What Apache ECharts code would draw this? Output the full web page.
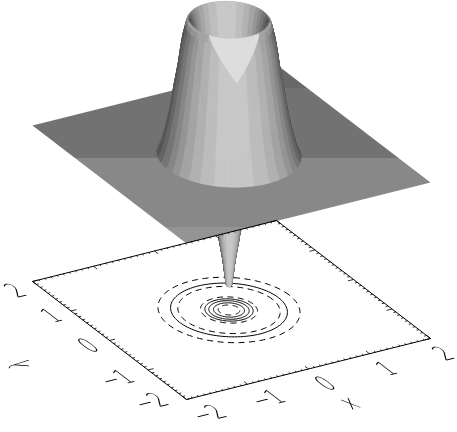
<!DOCTYPE html>
<html>
<head>
<meta charset="utf-8">
<style>html,body{margin:0;padding:0;background:#fff}#container{width:457px;height:432px}</style>
<script src="https://cdn.jsdelivr.net/npm/echarts@6/dist/echarts.min.js"></script>
</head>
<body>
<div id="container"></div>
<script>
// radial profile of the surface
var profileR = [0, .04, .085, .14, .2, .25, .3, .35, .4, .45, .5, .52, .54, .56, .58, .6, .62, .64, .66, .68, .7, .72, .74, .76, .78, .8, .83, .86, .89, .92, .95, .98, 1];
var profileZ = [-1, -.97, -.79, -.63, -.41, -.19, .04, .28, .54, .78, .93, .975, .995, 1, .99, .955, .91, .87, .81, .745, .67, .61, .555, .5, .435, .37, .29, .22, .155, .1, .05, .015, 0];

// contours on the floor (radius in x/y units)
var contourR = [.15, .215, .28, .335, .395, .71, .81, .985];
var contourDashed = [true, false, false, false, true, true, false, true];

var xTicks = [-2, -1, 0, 1, 2];
var yTicks = [-2, -1, 0, 1, 2];
var floorZ = -1.164;

// grey bands of the shaded surface: lower edge of each band, and its grey
var bandEdge = [.96, .88, .78, .66, .54, .42, .28, .1, 0];
var bandGrey = [200, 190, 178, 165, 150, 135, 118, 100, 85];

// the box axes are oblique, so x,y,z go through this to the hidden cartesian axes
function project(x, y, z) {
    return [231.5 + 61 * x - 38.5 * y, 154 - 15.25 * x - 29.5 * y - 134 * z];
}
function centre(x, y, z) {
    var p = project(x, y, z);
    return [p[0] - 2.5, p[1]];
}

var nPhi = 180;
var front = Math.atan2(-.888, -.459);

function facetColor(phi, zMid, outer) {
    var t = Math.abs(Math.cos(phi - front));
    // the outer shoulder faces upward, so it catches more light
    if (outer) {
        var w = Math.max(0, (zMid - .95) / .05);
        t = t * (1 - w) + w * .72;
    }
    var g = bandGrey[bandGrey.length - 1];
    for (var n = 0; n < bandEdge.length; n++) {
        if (t >= bandEdge[n]) { g = bandGrey[n]; break; }
    }
    return 'rgb(' + g + ',' + g + ',' + g + ')';
}

var below = [], above = [];
for (var i = 0; i < profileR.length - 1; i++) {
    for (var j = 0; j < nPhi; j++) {
        var p0 = j / nPhi * 2 * Math.PI, p1 = (j + 1) / nPhi * 2 * Math.PI, pm = (p0 + p1) / 2;
        var r0 = profileR[i], r1 = profileR[i + 1], z0 = profileZ[i], z1 = profileZ[i + 1];
        var rm = (r0 + r1) / 2, zm = (z0 + z1) / 2;
        var depth = 63.9 * (.459 * rm * Math.cos(pm) + .888 * rm * Math.sin(pm)) - 69.5 * zm;
        var f = {
            pts: [
                centre(r0 * Math.cos(p0), r0 * Math.sin(p0), z0),
                centre(r1 * Math.cos(p0), r1 * Math.sin(p0), z1),
                centre(r1 * Math.cos(p1), r1 * Math.sin(p1), z1),
                centre(r0 * Math.cos(p1), r0 * Math.sin(p1), z0)
            ],
            color: facetColor(pm, zm, z1 < z0),
            depth: depth
        };
        (zm < 0 ? below : above).push(f);
    }
}
below.sort(function (a, b) { return b.depth - a.depth; });
above.sort(function (a, b) { return b.depth - a.depth; });

// light wedge on the front of the tube, under the rim
function outerRadius(z) {
    for (var n = profileZ.length - 1; n > 0; n--) {
        if (profileZ[n - 1] >= z) {
            var u = (z - profileZ[n]) / (profileZ[n - 1] - profileZ[n]);
            return profileR[n] + u * (profileR[n - 1] - profileR[n]);
        }
    }
    return profileR[0];
}
var wedge = [];
for (var s = -20; s <= 20; s++) {
    var sn = s / 20;
    var ph = front + .07 + Math.asin(.62 * sn);
    var zw = .7 + .3 * Math.abs(sn);
    var rw = outerRadius(zw);
    wedge.push(centre(rw * Math.cos(ph), rw * Math.sin(ph), zw));
}
for (var s2 = 20; s2 >= -20; s2--) {
    var ph2 = front + .07 + Math.asin(.62 * s2 / 20);
    wedge.push(centre(.56 * Math.cos(ph2), .56 * Math.sin(ph2), 1));
}
above.push({ pts: wedge, color: 'rgb(221,221,221)', depth: -999 });

function facetSeries(list, z) {
    return {
        type: 'custom', coordinateSystem: 'cartesian2d', clip: false, silent: true, z: z,
        animation: false, progressive: 0,
        data: list.map(function (f, k) { return [k]; }),
        encode: { x: 0, y: 0 },
        renderItem: function (params, api) {
            var f = list[params.dataIndex];
            return {
                type: 'polygon',
                shape: { points: f.pts.map(function (p) { return api.coord(p); }) },
                style: { fill: f.color, stroke: f.color, lineWidth: .6 }
            };
        }
    };
}

// straight segments and contours on the floor
var lines = [];
function seg(a, b) { lines.push({ pts: [a, b], w: .8, dash: null }); }
var corners = [[-2, -2], [2, -2], [2, 2], [-2, 2]];
for (var c = 0; c < 4; c++) {
    lines.push({ pts: [project(corners[c][0], corners[c][1], floorZ), project(corners[(c + 1) % 4][0], corners[(c + 1) % 4][1], floorZ)], w: 1, dash: null });
}
for (var k = 0; k <= 40; k++) {
    var v = -2 + k * .1;
    var len = k % 10 === 0 ? .09 : .04;
    seg(project(v, -2, floorZ), project(v, -2 + len, floorZ));
    seg(project(v, 2, floorZ), project(v, 2 - len, floorZ));
    seg(project(-2, v, floorZ), project(-2 + len, v, floorZ));
    seg(project(2, v, floorZ), project(2 - len, v, floorZ));
}
var rings = contourR.map(function (r, n) {
    var pts = [];
    for (var a = 0; a <= 120; a++) {
        var t = a / 120 * 2 * Math.PI;
        pts.push(centre(r * Math.cos(t), r * Math.sin(t), floorZ));
    }
    return { pts: pts, w: 1, dash: contourDashed[n] ? [6, 4.5] : null };
});

function lineSeries(list, z) {
    return {
        type: 'custom', coordinateSystem: 'cartesian2d', clip: false, silent: true, z: z,
        animation: false, progressive: 0,
        data: list.map(function (f, k) { return [k]; }),
        encode: { x: 0, y: 0 },
        renderItem: function (params, api) {
            var l = list[params.dataIndex];
            return {
                type: 'polyline',
                shape: { points: l.pts.map(function (p) { return api.coord(p); }) },
                style: { fill: null, stroke: '#000', lineWidth: l.w, lineDash: l.dash }
            };
        }
    };
}

// text laid flat on the floor: rotate, stretch, rotate gives any affine map
var baseX = [1.26, -.315], downY = [1.59, 1.22];
var labels = [];
xTicks.forEach(function (v, n) {
    var at = [[210, 415], [269, 400], [327, 385], [388, 370], [445, 355]][n];
    labels.push({ text: String(v).replace('-', '\u2212'), at: at, base: baseX, down: downY });
});
yTicks.forEach(function (v, n) {
    var at = [[152, 403], [118, 380], [90, 347], [53, 317], [17, 292]][n];
    labels.push({ text: String(v).replace('-', '\u2212'), at: at, base: baseX, down: downY });
});
labels.push({ text: 'x', at: [351, 404], base: baseX, down: downY });
labels.push({ text: 'y', at: [21, 364], base: [0, -.95], down: [-1.94, .24] });

function labelItem(params, api) {
    var l = labels[params.dataIndex];
    var a = l.base[0], b = l.base[1], c = l.down[0], d = l.down[1];
    var E = (a + d) / 2, F = (a - d) / 2, G = (b + c) / 2, H = (b - c) / 2;
    var Q = Math.hypot(E, H), R = Math.hypot(F, G);
    var a1 = Math.atan2(G, F), a2 = Math.atan2(H, E);
    var xy = api.coord(l.at);
    return {
        type: 'group', x: xy[0], y: xy[1], rotation: -(a2 + a1) / 2, scaleX: Q + R, scaleY: Q - R,
        children: [{
            type: 'text', rotation: -(a2 - a1) / 2,
            style: { text: l.text, x: 0, y: 0, fill: '#000', align: 'center', verticalAlign: 'middle', font: '200 14px "DejaVu Sans"' }
        }]
    };
}

var myChart = echarts.init(document.getElementById('container'));
var planeCorners = [[-2, -2], [2, -2], [2, 2], [-2, 2]];

var option = {
    animation: false,
    backgroundColor: '#fff',
    grid: { left: 0, right: 0, top: 0, bottom: 0 },
    xAxis: { type: 'value', min: 0, max: 457, show: false },
    yAxis: { type: 'value', min: 0, max: 432, inverse: true, show: false },
    series: [
        lineSeries(rings, 1),
        facetSeries(below, 2),
        {
            type: 'custom', coordinateSystem: 'cartesian2d', clip: false, silent: true, z: 3,
            animation: false, data: [[0]], encode: { x: 0, y: 0 },
            renderItem: function (params, api) {
                var pts = planeCorners.map(function (p) { return api.coord(project(p[0], p[1], 0)); });
                return {
                    type: 'polygon', shape: { points: pts },
                    style: {
                        fill: new echarts.graphic.LinearGradient(0, 65, 0, 243, [
                            { offset: 0, color: '#686868' }, { offset: .129, color: '#686868' },
                            { offset: .129, color: '#727272' }, { offset: .52, color: '#727272' },
                            { offset: .52, color: '#888888' }, { offset: .91, color: '#888888' },
                            { offset: .91, color: '#949494' }, { offset: 1, color: '#949494' }
                        ], true)
                    }
                };
            }
        },
        lineSeries(lines, 4),
        facetSeries(above, 5),
        {
            type: 'custom', coordinateSystem: 'cartesian2d', clip: false, silent: true, z: 6,
            animation: false, data: labels.map(function (l, k) { return [k]; }), encode: { x: 0, y: 0 },
            renderItem: labelItem
        }
    ]
};
myChart.setOption(option);
</script>
</body>
</html>
